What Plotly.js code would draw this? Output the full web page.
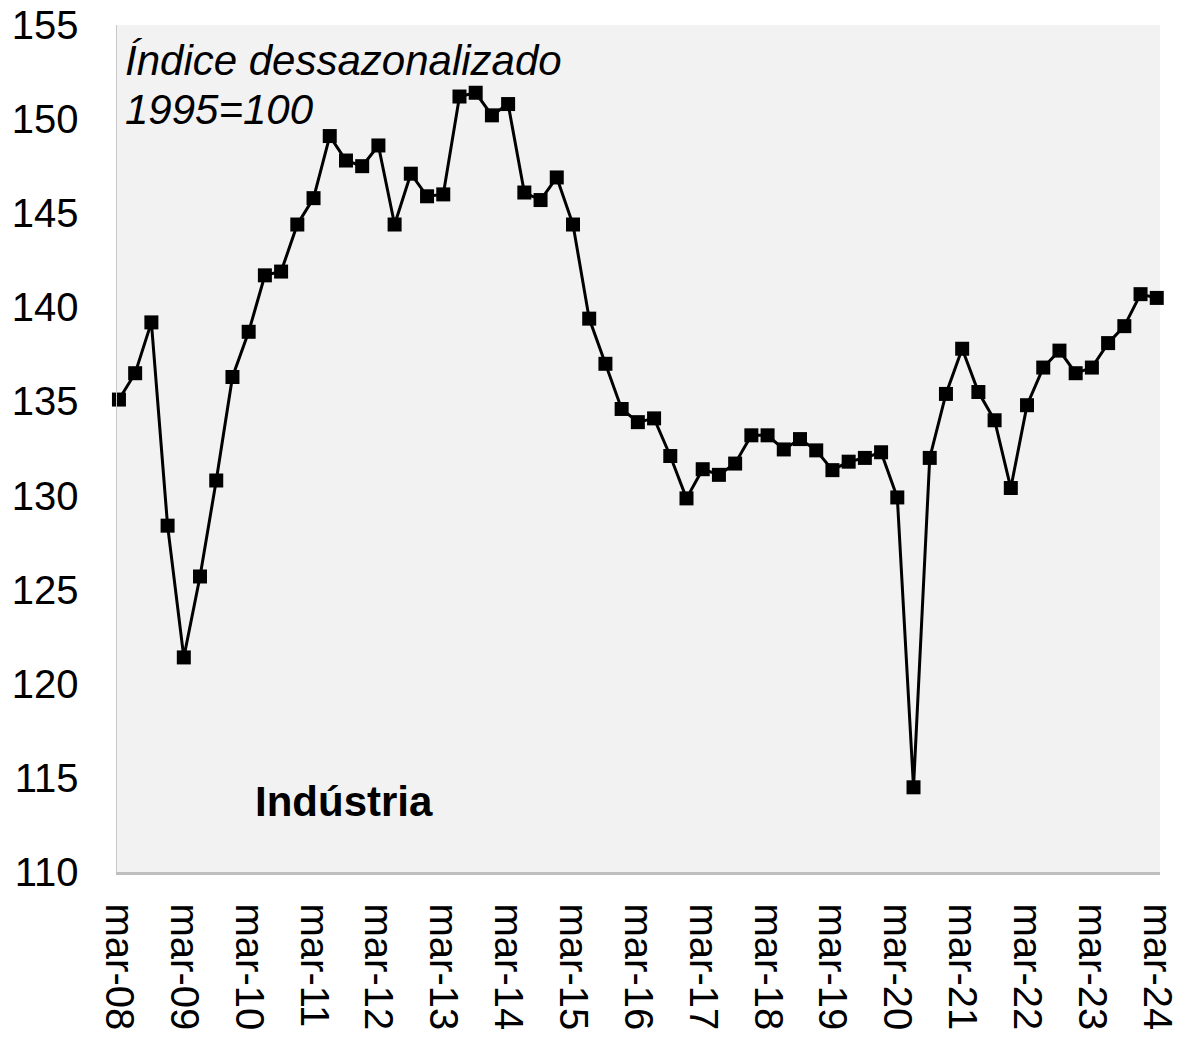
<!DOCTYPE html>
<html>
<head>
<meta charset="utf-8">
<script src="https://cdn.plot.ly/plotly-3.0.1.min.js"></script>
<style>html,body{margin:0;padding:0;background:#fff;}#chart{width:1178px;height:1040px;}</style>
</head>
<body>
<div id="chart"></div>
<script>
const quarters = [
  "mar-08","jun-08","set-08","dez-08",
  "mar-09","jun-09","set-09","dez-09",
  "mar-10","jun-10","set-10","dez-10",
  "mar-11","jun-11","set-11","dez-11",
  "mar-12","jun-12","set-12","dez-12",
  "mar-13","jun-13","set-13","dez-13",
  "mar-14","jun-14","set-14","dez-14",
  "mar-15","jun-15","set-15","dez-15",
  "mar-16","jun-16","set-16","dez-16",
  "mar-17","jun-17","set-17","dez-17",
  "mar-18","jun-18","set-18","dez-18",
  "mar-19","jun-19","set-19","dez-19",
  "mar-20","jun-20","set-20","dez-20",
  "mar-21","jun-21","set-21","dez-21",
  "mar-22","jun-22","set-22","dez-22",
  "mar-23","jun-23","set-23","dez-23",
  "mar-24"
];
const industria = [
  135.1,136.5,139.2,128.4,
  121.4,125.7,130.8,136.3,
  138.7,141.7,141.9,144.4,
  145.8,149.1,147.8,147.5,
  148.6,144.4,147.1,145.9,
  146.0,151.2,151.4,150.2,
  150.8,146.1,145.7,146.9,
  144.4,139.4,137.0,134.6,
  133.9,134.1,132.1,129.85,
  131.4,131.1,131.7,133.2,
  133.2,132.45,133.0,132.4,
  131.35,131.8,132.0,132.3,
  129.9,114.5,132.0,135.4,
  137.8,135.5,134.0,130.4,
  134.8,136.8,137.7,136.5,
  136.8,138.1,139.0,140.7,
  140.5
];
const xTickLabels = ["mar-08","mar-09","mar-10","mar-11","mar-12","mar-13","mar-14","mar-15","mar-16","mar-17","mar-18","mar-19","mar-20","mar-21","mar-22","mar-23","mar-24"];
const yTickVals = [110,115,120,125,130,135,140,145,150,155];

const FONT = '"Liberation Sans", Arial, sans-serif';

const trace = {
  x: quarters,
  y: industria,
  type: 'scatter',
  mode: 'lines+markers',
  line: {color: '#000000', width: 3},
  marker: {symbol: 'square', size: 14, color: '#000000'},
  cliponaxis: false,
  hoverinfo: 'x+y'
};

const layout = {
  width: 1178,
  height: 1040,
  margin: {l: 117, r: 18, t: 25, b: 168},
  paper_bgcolor: '#ffffff',
  plot_bgcolor: '#f2f2f2',
  showlegend: false,
  font: {family: FONT, color: '#000000', size: 40},
  xaxis: {
    type: 'category',
    range: [-0.12, 64.2],
    tickmode: 'array',
    tickvals: xTickLabels,
    ticktext: xTickLabels,
    tickangle: 90,
    tickfont: {family: FONT, size: 40, color: '#000000'},
    ticks: '',
    ticklabelstandoff: 21,
    showgrid: false,
    zeroline: false,
    showline: true,
    linecolor: '#bfbfbf',
    linewidth: 2.5
  },
  yaxis: {
    range: [110, 155],
    tickmode: 'array',
    tickvals: yTickVals,
    ticktext: yTickVals.map(String),
    tickfont: {family: FONT, size: 40, color: '#000000'},
    ticks: '',
    ticklabelstandoff: 29,
    showgrid: false,
    zeroline: false,
    showline: true,
    linecolor: '#c8c8c8',
    linewidth: 1.5
  },
  annotations: [
    {
      text: 'Índice dessazonalizado',
      xref: 'paper', yref: 'paper',
      x: (123 - 117) / 1043, y: 1 - (61 - 25) / 847,
      xanchor: 'left', yanchor: 'middle',
      showarrow: false,
      font: {family: FONT, size: 42, color: '#000000', style: 'italic'}
    },
    {
      text: '1995=100',
      xref: 'paper', yref: 'paper',
      x: (123 - 117) / 1043, y: 1 - (110 - 25) / 847,
      xanchor: 'left', yanchor: 'middle',
      showarrow: false,
      font: {family: FONT, size: 42, color: '#000000', style: 'italic'}
    },
    {
      text: '<b>Indústria</b>',
      xref: 'paper', yref: 'paper',
      x: (253 - 117) / 1043, y: 1 - (801 - 25) / 847,
      xanchor: 'left', yanchor: 'middle',
      showarrow: false,
      font: {family: FONT, size: 42, color: '#000000'}
    }
  ]
};

Plotly.newPlot('chart', [trace], layout, {displayModeBar: false, staticPlot: true});
</script>
</body>
</html>
